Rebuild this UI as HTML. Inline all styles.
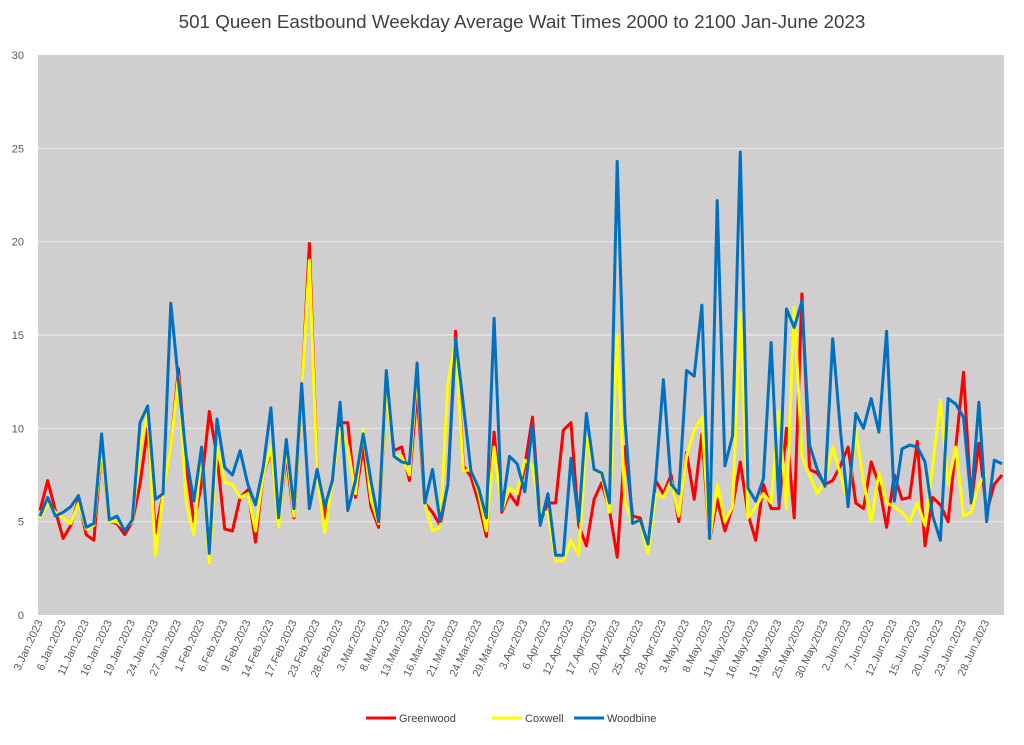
<!DOCTYPE html>
<html><head><meta charset="utf-8"><style>
body{margin:0;background:#fff;font-family:"Liberation Sans",sans-serif}
svg text{font-family:"Liberation Sans",sans-serif}
</style></head><body>
<svg id="chart" width="1024" height="740" xmlns="http://www.w3.org/2000/svg">
<rect width="1024" height="740" fill="#fff"/>
<text x="522" y="28" text-anchor="middle" font-size="18.8" fill="#404040">501 Queen Eastbound Weekday Average Wait Times 2000 to 2100 Jan-June 2023</text>
<rect x="38" y="55" width="966" height="560" fill="#d0cece"/>
<g id="grid"></g><g id="ylab"></g><g id="xlab"></g><g id="lines"></g>
<g>
<line x1="366" y1="718" x2="396" y2="718" stroke="#ff0000" stroke-width="3"/>
<text x="399" y="722" font-size="11" fill="#404040">Greenwood</text>
<line x1="492" y1="718" x2="522" y2="718" stroke="#ffff00" stroke-width="3"/>
<text x="525" y="722" font-size="11" fill="#404040">Coxwell</text>
<line x1="574" y1="718" x2="604" y2="718" stroke="#0070c0" stroke-width="3"/>
<text x="607" y="722" font-size="11" fill="#404040">Woodbine</text>
</g>
</svg>
<script>
const yTicks=[0,5,10,15,20,25,30];
const holidays=["2023-02-20","2023-04-10","2023-05-22"];
const greenwood=[5.6,7.2,5.6,4.1,4.8,6.2,4.3,4.0,9.0,5.0,4.9,4.3,5.0,7.0,10.0,4.4,6.5,9.0,13.2,8.0,5.0,7.0,10.9,8.5,4.6,4.5,6.3,6.7,3.9,7.5,8.8,5.0,8.5,5.2,12.0,19.9,7.6,5.2,7.2,10.3,10.3,6.3,9.0,5.8,4.7,12.0,8.8,9.0,7.2,12.0,6.0,5.5,4.8,7.0,15.2,8.0,7.4,6.0,4.2,9.8,5.5,6.5,5.9,8.0,10.6,5.0,6.0,6.0,9.9,10.3,4.8,3.7,6.2,7.1,5.6,3.1,9.0,5.3,5.2,3.6,7.2,6.5,7.5,5.0,8.7,6.2,9.7,4.0,6.2,4.5,5.8,8.2,5.4,4.0,7.0,5.7,5.7,10.0,5.2,17.2,7.8,7.6,7.0,7.2,8.0,9.0,6.0,5.7,8.2,7.0,4.7,7.5,6.2,6.3,9.3,3.7,6.3,5.9,5.0,9.0,13.0,6.0,9.2,5.5,7.0,7.5];
const coxwell=[5.2,6.0,5.5,5.2,4.9,6.0,4.6,4.8,9.0,5.0,5.0,4.6,5.0,9.0,10.8,3.2,6.5,9.0,12.8,6.0,4.3,9.0,2.8,9.0,7.1,7.0,6.3,6.5,4.5,7.5,9.0,4.7,9.0,5.3,12.0,19.0,7.5,4.4,7.2,10.0,9.0,6.5,9.9,6.2,4.9,12.0,8.5,8.5,7.5,13.0,6.0,4.5,4.7,12.4,14.8,7.7,7.8,6.5,4.5,9.0,5.6,6.8,6.5,8.3,8.0,5.5,5.5,2.9,2.9,4.0,3.2,9.5,7.8,7.5,5.5,15.0,6.0,5.0,5.0,3.3,6.5,6.3,7.2,5.3,8.5,9.9,10.6,4.0,7.0,5.0,5.8,16.2,5.2,5.8,6.5,6.0,10.9,5.7,16.5,8.5,7.5,6.5,7.2,9.0,7.5,6.0,9.9,7.2,5.0,7.6,6.0,5.8,5.5,5.0,6.0,4.8,8.0,11.5,7.0,9.0,5.3,5.5,7.0,7.6];
const woodbine=[5.3,6.3,5.3,5.5,5.8,6.4,4.7,4.9,9.7,5.1,5.3,4.5,5.1,10.3,11.2,6.2,6.5,16.7,12.5,8.5,6.1,9.0,3.3,10.5,7.9,7.5,8.8,7.0,5.9,7.9,11.1,5.2,9.4,5.7,12.4,5.7,7.8,5.8,7.2,11.4,5.6,7.2,9.7,7.2,5.0,13.1,8.5,8.2,8.1,13.5,6.0,7.8,5.0,7.0,14.8,11.3,7.7,6.8,5.2,15.9,5.6,8.5,8.1,6.6,10.2,4.8,6.5,3.2,3.2,8.4,5.0,10.8,7.8,7.6,6.0,24.3,10.5,4.9,5.1,3.8,7.3,12.6,7.0,6.5,13.1,12.8,16.6,4.1,22.2,8.0,9.6,24.8,6.8,6.1,7.3,14.6,6.0,16.4,15.4,16.8,9.1,7.8,6.9,14.8,9.9,5.8,10.8,10.0,11.6,9.8,15.2,6.1,8.9,9.1,9.0,8.2,5.3,4.0,11.6,11.3,10.6,6.1,11.4,5.0,8.3,8.1];
const months=["Jan","Feb","Mar","Apr","May","Jun"];
const categories=[];
for(let d=new Date(Date.UTC(2023,0,3));d<=new Date(Date.UTC(2023,5,30));d.setUTCDate(d.getUTCDate()+1)){
  const wd=d.getUTCDay(); if(wd===0||wd===6) continue;
  if(holidays.includes(d.toISOString().slice(0,10))) continue;
  categories.push(d.getUTCDate()+"."+months[d.getUTCMonth()]+".2023");
}
const NS="http://www.w3.org/2000/svg";
const X0=40,X1=1002,Y0=615,Y1=55,YMAX=30;
const n=categories.length;
const xs=i=>X0+(X1-X0)*i/(n-1);
const ys=v=>Y0-(Y0-Y1)*v/YMAX;
function mk(tag,attrs,parent){const e=document.createElementNS(NS,tag);for(const k in attrs)e.setAttribute(k,attrs[k]);parent.appendChild(e);return e;}
const grid=document.getElementById('grid'),ylab=document.getElementById('ylab'),xlab=document.getElementById('xlab'),lines=document.getElementById('lines');
yTicks.forEach(t=>{
  if(t>0&&t<YMAX){const g=mk('line',{x1:38,x2:1004,y1:ys(t),y2:ys(t),stroke:'#e4e2e2','stroke-width':1.5},grid);
  
  }
  const tx=mk('text',{x:24,y:ys(t)+4,'text-anchor':'end','font-size':11,fill:'#595959'},ylab);
  
  
  tx.textContent=t;
});
categories.forEach((c,i)=>{
  if(i%3!==0) return;
  const x=xs(i)+3,y=622;
  const tx=mk('text',{x:x,y:y,'text-anchor':'end','font-size':11,fill:'#595959',transform:`rotate(-65 ${x} ${y})`},xlab);
  
  
  tx.textContent=c;
});
[[greenwood,'#ff0000','greenwood'],[coxwell,'#ffff00','coxwell'],[woodbine,'#0070c0','woodbine']].forEach(([vals,col,name])=>{
  const pts=vals.slice(0,n).map((v,i)=>xs(i).toFixed(1)+","+ys(v).toFixed(1)).join(" ");
  const p=mk('polyline',{points:pts,fill:'none',stroke:col,'stroke-width':3,'stroke-linejoin':'round'},lines);
  
  
});
</script>
</body></html>
